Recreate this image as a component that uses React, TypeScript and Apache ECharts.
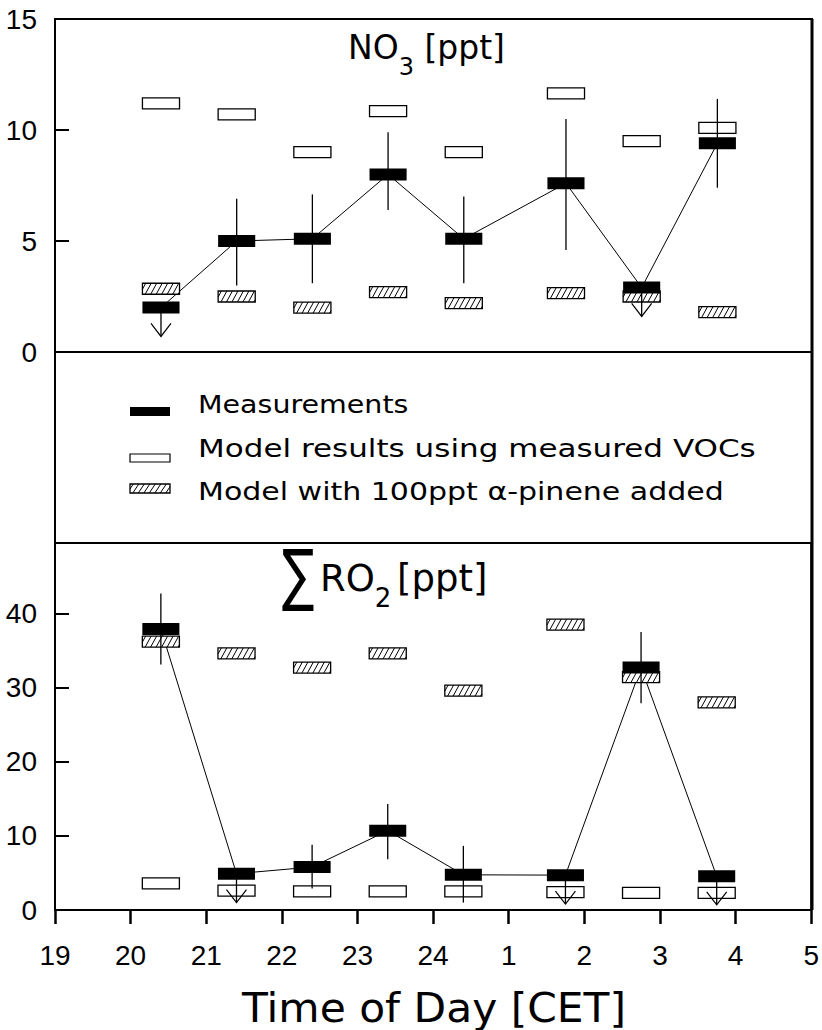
import React, { useEffect, useRef } from "react";
import * as echarts from "echarts";

// ---- data (hours after 19 CET; values > 24 are the next morning) ----
const hours = [20.4, 21.4, 22.4, 23.4, 24.4, 25.75, 26.75, 27.75];

const no3Measured = [2.0, 5.0, 5.1, 8.0, 5.1, 7.6, 2.9, 9.4];
const no3ErrLow = [0.7, 3.0, 3.1, 6.4, 3.1, 4.6, 1.6, 7.4];
const no3ErrHigh: (number | null)[] = [null, 6.9, 7.1, 9.9, 7.0, 10.5, null, 11.4];
const no3ModelVOC = [11.2, 10.7, 9.0, 10.85, 9.0, 11.65, 9.5, 10.1];
const no3ModelPinene = [2.85, 2.5, 2.0, 2.7, 2.2, 2.65, 2.5, 1.8];

const ro2Measured = [37.9, 4.9, 5.8, 10.7, 4.75, 4.7, 32.7, 4.55];
const ro2ErrLow = [33.1, 1.0, 2.9, 6.85, 1.0, 0.8, 27.9, 0.7];
const ro2ErrHigh: (number | null)[] = [42.7, null, 8.8, 14.3, 8.65, null, 37.5, null];
const ro2ModelVOC = [3.6, 2.6, 2.5, 2.5, 2.5, 2.4, 2.3, 2.3];
const ro2ModelPinene = [36.2, 34.6, 32.7, 34.6, 29.6, 38.5, 31.4, 28.0];

const legendLabels = [
  "Measurements",
  "Model results using measured VOCs",
  "Model with 100ppt \u03b1-pinene added",
];
const xAxisTitle = "Time of Day [CET]";

const BOX_HOURS = 0.49;
const AXIS_FONT = "'Liberation Sans', Arial, sans-serif";
const TEXT_FONT = "'DejaVu Sans', sans-serif";

function hatchElements(x0: number, y0: number, w: number, h: number): any[] {
  const els: any[] = [
    {
      type: "rect",
      shape: { x: x0, y: y0, width: w, height: h },
      style: { fill: "#fff", stroke: "#000", lineWidth: 1.3 },
    },
  ];
  const dx = 6;
  const step = 5.5;
  for (let xs = x0 - dx + step * 0.6; xs < x0 + w; xs += step) {
    let sx = xs;
    let sy = y0 + h;
    let ex = xs + dx;
    let ey = y0;
    if (sx < x0) {
      const t = (x0 - xs) / dx;
      sx = x0;
      sy = y0 + h - t * h;
    }
    if (ex > x0 + w) {
      const t = (x0 + w - xs) / dx;
      ex = x0 + w;
      ey = y0 + h - t * h;
    }
    els.push({
      type: "line",
      shape: { x1: sx, y1: sy, x2: ex, y2: ey },
      style: { stroke: "#000", lineWidth: 1 },
    });
  }
  return els;
}

function makeBox(kind: "filled" | "open" | "hatched") {
  return (params: any, api: any) => {
    const c = api.coord([api.value(0), api.value(1)]);
    const w = api.size([BOX_HOURS, 0])[0];
    const h = kind === "filled" ? 12 : 11;
    const x0 = c[0] - w / 2;
    const y0 = c[1] - h / 2;
    if (kind === "hatched") {
      return { type: "group", children: hatchElements(x0, y0, w, h) };
    }
    return {
      type: "rect",
      shape: { x: x0, y: y0, width: w, height: h },
      style:
        kind === "filled"
          ? { fill: "#000", stroke: "#000", lineWidth: 0 }
          : { fill: "#fff", stroke: "#000", lineWidth: 1.3 },
    };
  };
}

function errRender(params: any, api: any) {
  const x = api.value(0);
  const low = api.coord([x, api.value(1)]);
  const top = api.coord([x, api.value(2)]);
  const isLimit = api.value(3) === 1;
  const children: any[] = [
    {
      type: "line",
      shape: { x1: top[0], y1: top[1], x2: low[0], y2: low[1] },
      style: { stroke: "#000", lineWidth: 1.3 },
    },
  ];
  if (isLimit) {
    children.push({
      type: "polyline",
      shape: {
        points: [
          [low[0] - 10, low[1] - 13],
          [low[0], low[1]],
          [low[0] + 10, low[1] - 13],
        ],
      },
      style: { stroke: "#000", lineWidth: 1.2, fill: "none" },
    });
  }
  return { type: "group", children };
}

function errData(meas: number[], low: number[], high: (number | null)[]) {
  return hours.map((h, i) => [h, low[i], high[i] == null ? meas[i] : high[i], high[i] == null ? 1 : 0]);
}

function panelSeries(
  idx: number,
  meas: number[],
  low: number[],
  high: (number | null)[],
  voc: number[],
  pinene: number[]
): any[] {
  const pts = (arr: number[]) => hours.map((h, i) => [h, arr[i]]);
  return [
    {
      type: "line",
      xAxisIndex: idx,
      yAxisIndex: idx,
      data: pts(meas),
      symbol: "none",
      lineStyle: { color: "#000", width: 1 },
      z: 2,
    },
    {
      type: "custom",
      name: legendLabels[1],
      xAxisIndex: idx,
      yAxisIndex: idx,
      data: pts(voc),
      renderItem: makeBox("open"),
      z: 3,
    },
    {
      type: "custom",
      name: legendLabels[2],
      xAxisIndex: idx,
      yAxisIndex: idx,
      data: pts(pinene),
      renderItem: makeBox("hatched"),
      z: 3,
    },
    {
      type: "custom",
      name: legendLabels[0],
      xAxisIndex: idx,
      yAxisIndex: idx,
      data: pts(meas),
      renderItem: makeBox("filled"),
      z: 4,
    },
    {
      type: "custom",
      xAxisIndex: idx,
      yAxisIndex: idx,
      data: errData(meas, low, high),
      renderItem: errRender,
      z: 5,
    },
  ];
}

export default function App() {
  const ref = useRef<HTMLDivElement>(null);

  useEffect(() => {
    document.body.style.margin = "0";
    if (!ref.current) return;
    const chart = echarts.init(ref.current, null, { renderer: "svg" });

    const L = 55;
    const R = 812;
    const topTop = 19;
    const topBottom = 352;
    const botTop = 543;
    const botBottom = 910;

    const legendRows = [404, 449, 491];
    const legendStretch = [1.14, 1.24, 1.2];
    const symX = 130;
    const symW = 40;

    const graphics: any[] = [
      // middle (legend) frame sides
      { type: "line", shape: { x1: L, y1: topBottom, x2: L, y2: botTop }, style: { stroke: "#000", lineWidth: 2 } },
      { type: "line", shape: { x1: R, y1: topTop, x2: R, y2: botBottom }, style: { stroke: "#000", lineWidth: 3 }, z: 10 },
      // legend symbols
      { type: "rect", shape: { x: symX, y: 407, width: symW, height: 9 }, style: { fill: "#000" } },
      { type: "rect", shape: { x: symX, y: 454, width: symW, height: 8 }, style: { fill: "#fff", stroke: "#000", lineWidth: 1.2 } },
      ...hatchElements(symX, 484, symW, 9),
      // legend texts
      ...legendLabels.map((t, i) => ({
        type: "text",
        x: 198,
        y: legendRows[i],
        scaleX: legendStretch[i],
        style: { text: t, font: `25px ${TEXT_FONT}`, fill: "#000", textAlign: "left", textVerticalAlign: "middle" },
      })),
      // panel titles
      {
        type: "text",
        x: 348,
        y: 31,
        style: {
          text: "{a|NO}{s|3}{a| [ppt]}",
          textVerticalAlign: "top",
          textAlign: "left",
          rich: {
            a: { fontFamily: TEXT_FONT, fontSize: 33, lineHeight: 40, verticalAlign: "top", fill: "#000" },
            s: { fontFamily: TEXT_FONT, fontSize: 24, lineHeight: 24, padding: [24, 0, 0, 0], verticalAlign: "top", fill: "#000" },
          },
        },
      },
      {
        type: "text",
        x: 298,
        y: 574,
        scaleX: 1.1,
        scaleY: 1.55,
        style: { text: "\u2211", font: `44px ${TEXT_FONT}`, fill: "#000", textAlign: "center", textVerticalAlign: "middle" },
      },
      {
        type: "text",
        x: 320,
        y: 560,
        style: {
          text: "{a|RO}{s|2}{b| }{a|[ppt]}",
          textVerticalAlign: "top",
          textAlign: "left",
          rich: {
            a: { fontFamily: TEXT_FONT, fontSize: 37, lineHeight: 44, verticalAlign: "top", fill: "#000" },
            b: { fontFamily: TEXT_FONT, fontSize: 18, lineHeight: 44, verticalAlign: "top", fill: "#000" },
            s: { fontFamily: TEXT_FONT, fontSize: 26, lineHeight: 26, padding: [25, 0, 0, 0], verticalAlign: "top", fill: "#000" },
          },
        },
      },
      // x axis title
      {
        type: "text",
        x: 434,
        y: 1008,
        scaleX: 1.06,
        style: { text: xAxisTitle, font: `40px ${TEXT_FONT}`, fill: "#000", textAlign: "center", textVerticalAlign: "middle" },
      },
    ];

    const axisLabelStyle = { color: "#000", fontFamily: AXIS_FONT, fontSize: 28 };

    chart.setOption({
      animation: false,
      backgroundColor: "#fff",
      grid: [
        { left: L, top: topTop, width: R - L, height: topBottom - topTop, show: true, borderColor: "#000", borderWidth: 2, backgroundColor: "transparent" },
        { left: L, top: botTop, width: R - L, height: botBottom - botTop, show: true, borderColor: "#000", borderWidth: 2, backgroundColor: "transparent" },
      ],
      xAxis: [
        {
          type: "value",
          gridIndex: 0,
          min: 19,
          max: 29,
          interval: 1,
          axisLine: { show: false },
          axisTick: { show: false },
          axisLabel: { show: false },
          splitLine: { show: false },
        },
        {
          type: "value",
          gridIndex: 1,
          min: 19,
          max: 29,
          interval: 1,
          axisLine: { show: false },
          axisTick: { show: true, inside: false, length: 14, lineStyle: { color: "#000", width: 2.5 } },
          axisLabel: {
            ...axisLabelStyle,
            margin: 31,
            formatter: (v: number) => String(v > 24 ? v - 24 : v),
          },
          splitLine: { show: false },
        },
      ],
      yAxis: [
        {
          type: "value",
          gridIndex: 0,
          min: 0,
          max: 15,
          interval: 5,
          axisLine: { show: false },
          axisTick: { show: true, inside: true, length: 14, lineStyle: { color: "#000", width: 2 } },
          axisLabel: { ...axisLabelStyle, margin: 18 },
          splitLine: { show: false },
        },
        {
          type: "value",
          gridIndex: 1,
          min: 0,
          max: 49.5,
          interval: 10,
          axisLine: { show: false },
          axisTick: { show: true, inside: true, length: 14, lineStyle: { color: "#000", width: 2 } },
          axisLabel: {
            ...axisLabelStyle,
            margin: 18,
            formatter: (v: number) => (v % 10 === 0 ? String(v) : ""),
          },
          splitLine: { show: false },
        },
      ],
      series: [
        ...panelSeries(0, no3Measured, no3ErrLow, no3ErrHigh, no3ModelVOC, no3ModelPinene),
        ...panelSeries(1, ro2Measured, ro2ErrLow, ro2ErrHigh, ro2ModelVOC, ro2ModelPinene),
      ],
      graphic: graphics,
    });

    return () => chart.dispose();
  }, []);

  return (
    <div
      ref={ref}
      style={{ position: "absolute", left: 0, top: 0, width: 822, height: 1030, background: "#fff" }}
    />
  );
}
